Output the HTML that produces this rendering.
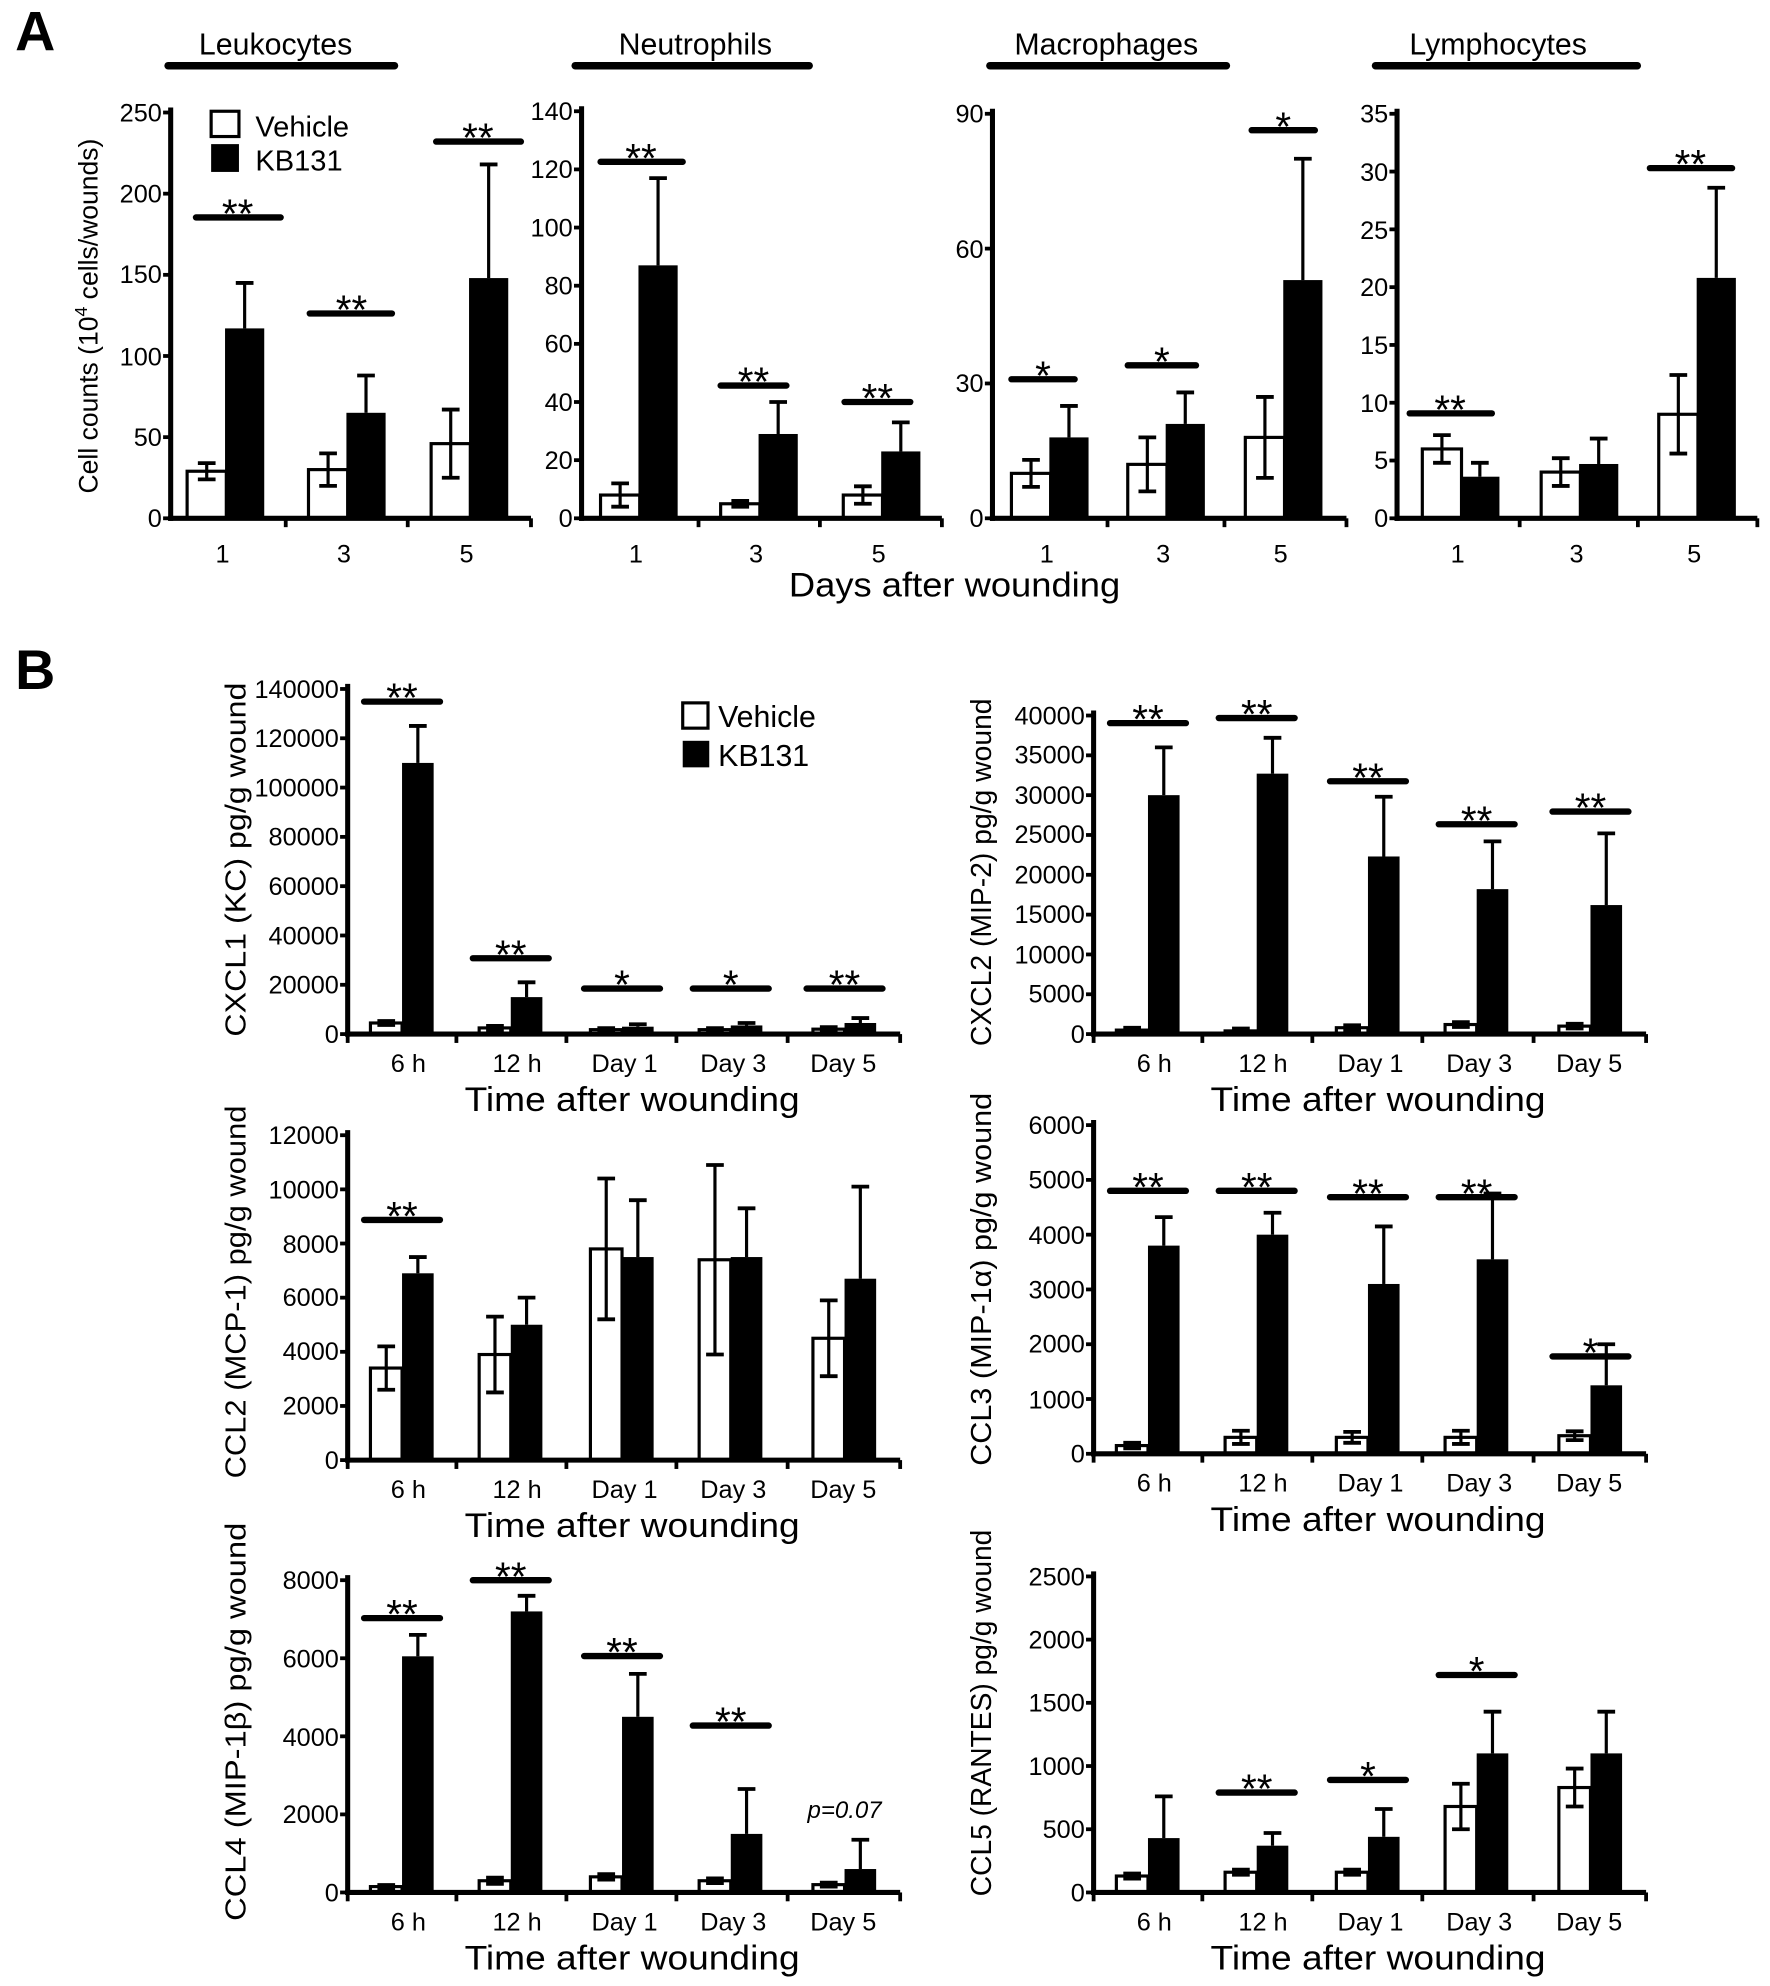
<!DOCTYPE html>
<html><head><meta charset="utf-8"><style>
html,body{margin:0;padding:0;background:#fff;}
svg{display:block;}
text{font-family:"Liberation Sans",sans-serif;fill:#000;}
.t{font-size:20px;text-anchor:end;}
.x{font-size:20px;text-anchor:middle;}
.ti{font-size:24px;text-anchor:middle;}
.big{font-size:27px;text-anchor:middle;}
.yl{font-size:23px;text-anchor:middle;}
</style></head><body>
<svg id="s" width="1770" height="1986" viewBox="0 0 1400 1571" preserveAspectRatio="none" xmlns="http://www.w3.org/2000/svg">
<rect width="1400" height="1571" fill="#fff"/>
<text x="12" y="40" style="font-size:44px;font-weight:bold">A</text>
<text x="12" y="545" style="font-size:44px;font-weight:bold">B</text>

<text class="ti" x="218" y="43">Leukocytes</text>
<text class="ti" x="550" y="43">Neutrophils</text>
<text class="ti" x="875" y="43">Macrophages</text>
<text class="ti" x="1185" y="43">Lymphocytes</text>
<g stroke="#000" stroke-width="6" stroke-linecap="round">
<line x1="133" y1="52" x2="312" y2="52"/><line x1="455" y1="52" x2="640" y2="52"/>
<line x1="783" y1="52" x2="970" y2="52"/><line x1="1088" y1="52" x2="1295" y2="52"/>
</g>
<text class="yl" transform="translate(77,250) rotate(-90)" style="font-size:21px">Cell counts (10<tspan dy="-8" style="font-size:14px">4</tspan><tspan dy="8"> cells/wounds)</tspan></text>
<rect x="167" y="88" width="22" height="20" fill="#fff" stroke="#000" stroke-width="2.5"/>
<rect x="167" y="114" width="22" height="22" fill="#000"/>
<text x="202" y="108" style="font-size:23px">Vehicle</text>
<text x="202" y="135" style="font-size:23px">KB131</text>

<text class="t" x="128" y="417">0</text><text class="t" x="128" y="353">50</text><text class="t" x="128" y="289">100</text><text class="t" x="128" y="224">150</text><text class="t" x="128" y="160">200</text><text class="t" x="128" y="96">250</text>
<text class="t" x="453" y="417">0</text><text class="t" x="453" y="371">20</text><text class="t" x="453" y="325">40</text><text class="t" x="453" y="279">60</text><text class="t" x="453" y="233">80</text><text class="t" x="453" y="187">100</text><text class="t" x="453" y="141">120</text><text class="t" x="453" y="95">140</text>
<text class="t" x="778" y="417">0</text><text class="t" x="778" y="310">30</text><text class="t" x="778" y="204">60</text><text class="t" x="778" y="97">90</text>
<text class="t" x="1098" y="417">0</text><text class="t" x="1098" y="371">5</text><text class="t" x="1098" y="326">10</text><text class="t" x="1098" y="280">15</text><text class="t" x="1098" y="234">20</text><text class="t" x="1098" y="189">25</text><text class="t" x="1098" y="143">30</text><text class="t" x="1098" y="97">35</text>
<text class="x" x="176" y="445">1</text><text class="x" x="272" y="445">3</text><text class="x" x="369" y="445">5</text>
<text class="x" x="503" y="445">1</text><text class="x" x="598" y="445">3</text><text class="x" x="695" y="445">5</text>
<text class="x" x="828" y="445">1</text><text class="x" x="920" y="445">3</text><text class="x" x="1013" y="445">5</text>
<text class="x" x="1153" y="445">1</text><text class="x" x="1247" y="445">3</text><text class="x" x="1340" y="445">5</text>
<text class="big" x="755" y="472" textLength="262" lengthAdjust="spacingAndGlyphs">Days after wounding</text>

<rect x="540" y="556" width="20" height="20" fill="#fff" stroke="#000" stroke-width="2.5"/>
<rect x="540" y="586" width="21" height="21" fill="#000"/>
<text x="568" y="575" style="font-size:24px">Vehicle</text>
<text x="568" y="606" style="font-size:24px">KB131</text>

<text class="yl" transform="translate(194,680) rotate(-90)" textLength="280" lengthAdjust="spacingAndGlyphs">CXCL1 (KC) pg/g wound</text>
<text class="yl" transform="translate(784,690) rotate(-90)" textLength="275" lengthAdjust="spacingAndGlyphs">CXCL2 (MIP-2) pg/g wound</text>
<text class="yl" transform="translate(194,1022) rotate(-90)" textLength="295" lengthAdjust="spacingAndGlyphs">CCL2 (MCP-1) pg/g wound</text>
<text class="yl" transform="translate(784,1012) rotate(-90)" textLength="295" lengthAdjust="spacingAndGlyphs">CCL3 (MIP-1α) pg/g wound</text>
<text class="yl" transform="translate(194,1362) rotate(-90)" textLength="315" lengthAdjust="spacingAndGlyphs">CCL4 (MIP-1β) pg/g wound</text>
<text class="yl" transform="translate(784,1355) rotate(-90)" textLength="290" lengthAdjust="spacingAndGlyphs">CCL5 (RANTES) pg/g wound</text>

<text class="t" x="268" y="825">0</text><text class="t" x="268" y="786">20000</text><text class="t" x="268" y="747">40000</text><text class="t" x="268" y="708">60000</text><text class="t" x="268" y="669">80000</text><text class="t" x="268" y="630">100000</text><text class="t" x="268" y="591">120000</text><text class="t" x="268" y="552">140000</text>
<text class="t" x="858" y="825">0</text><text class="t" x="858" y="793">5000</text><text class="t" x="858" y="762">10000</text><text class="t" x="858" y="730">15000</text><text class="t" x="858" y="699">20000</text><text class="t" x="858" y="667">25000</text><text class="t" x="858" y="636">30000</text><text class="t" x="858" y="604">35000</text><text class="t" x="858" y="573">40000</text>
<text class="t" x="268" y="1162">0</text><text class="t" x="268" y="1119">2000</text><text class="t" x="268" y="1076">4000</text><text class="t" x="268" y="1033">6000</text><text class="t" x="268" y="991">8000</text><text class="t" x="268" y="948">10000</text><text class="t" x="268" y="905">12000</text>
<text class="t" x="858" y="1157">0</text><text class="t" x="858" y="1114">1000</text><text class="t" x="858" y="1070">2000</text><text class="t" x="858" y="1027">3000</text><text class="t" x="858" y="984">4000</text><text class="t" x="858" y="940">5000</text><text class="t" x="858" y="897">6000</text>
<text class="t" x="268" y="1504">0</text><text class="t" x="268" y="1442">2000</text><text class="t" x="268" y="1381">4000</text><text class="t" x="268" y="1319">6000</text><text class="t" x="268" y="1257">8000</text>
<text class="t" x="858" y="1504">0</text><text class="t" x="858" y="1454">500</text><text class="t" x="858" y="1404">1000</text><text class="t" x="858" y="1354">1500</text><text class="t" x="858" y="1304">2000</text><text class="t" x="858" y="1254">2500</text>

<text class="x" x="323" y="848">6 h</text><text class="x" x="409" y="848">12 h</text><text class="x" x="494" y="848">Day 1</text><text class="x" x="580" y="848">Day 3</text><text class="x" x="667" y="848">Day 5</text>
<text class="x" x="913" y="848">6 h</text><text class="x" x="999" y="848">12 h</text><text class="x" x="1084" y="848">Day 1</text><text class="x" x="1170" y="848">Day 3</text><text class="x" x="1257" y="848">Day 5</text>
<text class="x" x="323" y="1185">6 h</text><text class="x" x="409" y="1185">12 h</text><text class="x" x="494" y="1185">Day 1</text><text class="x" x="580" y="1185">Day 3</text><text class="x" x="667" y="1185">Day 5</text>
<text class="x" x="913" y="1180">6 h</text><text class="x" x="999" y="1180">12 h</text><text class="x" x="1084" y="1180">Day 1</text><text class="x" x="1170" y="1180">Day 3</text><text class="x" x="1257" y="1180">Day 5</text>
<text class="x" x="323" y="1527">6 h</text><text class="x" x="409" y="1527">12 h</text><text class="x" x="494" y="1527">Day 1</text><text class="x" x="580" y="1527">Day 3</text><text class="x" x="667" y="1527">Day 5</text>
<text class="x" x="913" y="1527">6 h</text><text class="x" x="999" y="1527">12 h</text><text class="x" x="1084" y="1527">Day 1</text><text class="x" x="1170" y="1527">Day 3</text><text class="x" x="1257" y="1527">Day 5</text>
<text class="big" x="500" y="879" textLength="265" lengthAdjust="spacingAndGlyphs">Time after wounding</text>
<text class="big" x="1090" y="879" textLength="265" lengthAdjust="spacingAndGlyphs">Time after wounding</text>
<text class="big" x="500" y="1216" textLength="265" lengthAdjust="spacingAndGlyphs">Time after wounding</text>
<text class="big" x="1090" y="1211" textLength="265" lengthAdjust="spacingAndGlyphs">Time after wounding</text>
<text class="big" x="500" y="1558" textLength="265" lengthAdjust="spacingAndGlyphs">Time after wounding</text>
<text class="big" x="1090" y="1558" textLength="265" lengthAdjust="spacingAndGlyphs">Time after wounding</text>
<text x="668" y="1438" style="font-size:19px;font-style:italic;text-anchor:middle">p=0.07</text>

<g style="font-size:32px;text-anchor:middle">
<text x="188" y="180">**</text><text x="278" y="256">**</text><text x="378" y="120">**</text>
<text x="507" y="136">**</text><text x="596" y="313">**</text><text x="694" y="326">**</text>
<text x="825" y="308">*</text><text x="919" y="297">*</text><text x="1015" y="111">*</text>
<text x="1147" y="335">**</text><text x="1337" y="141">**</text>
<text x="318" y="563">**</text><text x="404" y="766">**</text><text x="492" y="790">*</text><text x="578" y="790">*</text><text x="668" y="790">**</text>
<text x="908" y="580">**</text><text x="994" y="576">**</text><text x="1082" y="626">**</text><text x="1168" y="660">**</text><text x="1258" y="650">**</text>
<text x="318" y="973">**</text>
<text x="908" y="950">**</text><text x="994" y="950">**</text><text x="1082" y="955">**</text><text x="1168" y="955">**</text><text x="1258" y="1081">*</text>
<text x="318" y="1288">**</text><text x="404" y="1258">**</text><text x="492" y="1318">**</text><text x="578" y="1373">**</text>
<text x="994" y="1426">**</text><text x="1082" y="1416">*</text><text x="1168" y="1333">*</text>
</g>
<g id="g"></g>
</svg>
<script>
var NS="http://www.w3.org/2000/svg",G=document.getElementById('g');
function el(t,a){var e=document.createElementNS(NS,t);for(var k in a)e.setAttribute(k,a[k]);G.appendChild(e);return e;}
function L(x1,y1,x2,y2,w,cap){el('line',{x1:x1,y1:y1,x2:x2,y2:y2,stroke:'#000','stroke-width':w||2.5,'stroke-linecap':cap||'butt'});}
function panel(o){
 var s=(o.zero-o.top)/o.tv;
 function Y(v){return o.zero-v*s;}
 for(var i=0;i<o.c.length;i++){
  var c=o.c[i];
  var wx=c+o.w0, kx=c+o.k0;
  var v=o.V[i],k=o.K[i];
  el('rect',{x:wx,y:Y(v[0]),width:o.bw,height:o.zero-Y(v[0]),fill:'#fff',stroke:'#000','stroke-width':2.5});
  el('rect',{x:kx,y:Y(k[0]),width:o.bw,height:o.zero-Y(k[0]),fill:'#000'});
  var m=wx+o.bw/2;L(m,Y(v[0]+v[1]),m,Y(Math.max(0,v[0]-v[1])));L(m-7,Y(v[0]+v[1]),m+7,Y(v[0]+v[1]),3);L(m-7,Y(Math.max(0,v[0]-v[1])),m+7,Y(Math.max(0,v[0]-v[1])),3);
  m=kx+o.bw/2;L(m,Y(k[0]+k[1]),m,Y(k[0]));L(m-7,Y(k[0]+k[1]),m+7,Y(k[0]+k[1]),3);
 }
 L(o.ax,o.top-4,o.ax,o.zero+2,4);
 L(o.ax-2,o.zero,o.xe,o.zero,4);
 var n=Math.round(o.tv/o.st);
 for(var j=0;j<=n;j++){L(o.ax-6,Y(j*o.st),o.ax,Y(j*o.st),3);}
 for(var j=0;j<o.c.length;j++){var tx=(j<o.c.length-1)?(o.c[j]+o.c[j+1])/2+o.tk:o.xe;L(tx,o.zero,tx,o.zero+7,3);}
 if(o.xt0)L(o.ax,o.zero,o.ax,o.zero+7,3);
 (o.S||[]).forEach(function(q){L(q[0],q[2],q[1],q[2],5,'round');});
}
panel({ax:135,zero:410,top:89,tv:250,st:50,xe:420,c:[176,272,369],w0:-28,k0:2,bw:31,tk:2,
 V:[[29,5],[30,10],[46,21]],K:[[117,28],[65,23],[148,70]],S:[[155,222,172],[245,310,248],[345,412,112]]});
panel({ax:460,zero:410,top:88,tv:140,st:20,xe:745,c:[503,598,695],w0:-28,k0:2,bw:31,tk:2,
 V:[[8,4],[5,1],[8,3]],K:[[87,30],[29,11],[23,10]],S:[[475,540,128],[570,622,305],[668,720,318]]});
panel({ax:785,zero:410,top:90,tv:90,st:30,xe:1065,c:[828,920,1013],w0:-28,k0:2,bw:31,tk:2,
 V:[[10,3],[12,6],[18,9]],K:[[18,7],[21,7],[53,27]],S:[[800,850,300],[892,946,289],[990,1040,103]]});
panel({ax:1105,zero:410,top:90,tv:35,st:5,xe:1390,c:[1153,1247,1340],w0:-28,k0:2,bw:31,tk:2,
 V:[[6,1.2],[4,1.2],[9,3.4]],K:[[3.6,1.2],[4.7,2.2],[20.8,7.8]],S:[[1115,1180,327],[1305,1370,133]]});
var CL=[318,404,492,578,668],CR=[908,994,1082,1168,1258];
function st(C,arr){return arr.map(function(a){return [C[a[0]]-30,C[a[0]]+30,a[1]];});}
panel({ax:275,zero:818,top:545,tv:140000,st:20000,xe:712,c:CL,w0:-25,k0:0,bw:25,tk:0,xt0:1,
 V:[[4500,800],[2500,800],[1800,600],[1800,600],[2000,800]],K:[[110000,15000],[15000,6000],[3000,1000],[3500,1000],[4500,2000]],
 S:st(CL,[[0,555],[1,758],[2,782],[3,782],[4,782]])});
panel({ax:865,zero:818,top:566,tv:40000,st:5000,xe:1302,c:CR,w0:-25,k0:0,bw:25,tk:0,xt0:1,
 V:[[500,300],[400,300],[800,300],[1200,300],[1000,300]],K:[[30000,6000],[32700,4500],[22300,7500],[18200,6000],[16200,9000]],
 S:st(CR,[[0,572],[1,568],[2,618],[3,652],[4,642]])});
panel({ax:275,zero:1155,top:898,tv:12000,st:2000,xe:712,c:CL,w0:-25,k0:0,bw:25,tk:0,xt0:1,
 V:[[3400,800],[3900,1400],[7800,2600],[7400,3500],[4500,1400]],K:[[6900,600],[5000,1000],[7500,2100],[7500,1800],[6700,3400]],
 S:st(CL,[[0,965]])});
panel({ax:865,zero:1150,top:890,tv:6000,st:1000,xe:1302,c:CR,w0:-25,k0:0,bw:25,tk:0,xt0:1,
 V:[[150,50],[300,120],[300,100],[300,120],[330,80]],K:[[3800,520],[4000,400],[3100,1050],[3550,1200],[1250,750]],
 S:st(CR,[[0,942],[1,942],[2,947],[3,947],[4,1073]])});
panel({ax:275,zero:1497,top:1250,tv:8000,st:2000,xe:712,c:CL,w0:-25,k0:0,bw:25,tk:0,xt0:1,
 V:[[150,40],[300,80],[400,70],[300,60],[200,50]],K:[[6050,550],[7200,400],[4500,1100],[1500,1150],[600,750]],
 S:st(CL,[[0,1280],[1,1250],[2,1310],[3,1365]])});
panel({ax:865,zero:1497,top:1247,tv:2500,st:500,xe:1302,c:CR,w0:-25,k0:0,bw:25,tk:0,xt0:1,
 V:[[130,20],[160,20],[160,20],[680,180],[830,150]],K:[[430,330],[370,100],[440,220],[1100,330],[1100,330]],
 S:st(CR,[[1,1418],[2,1408],[3,1325]])});
</script>
</body></html>
